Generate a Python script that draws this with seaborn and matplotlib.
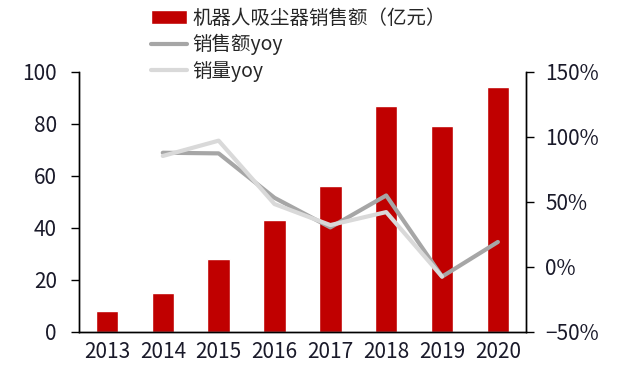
import matplotlib
matplotlib.use('Agg')
import matplotlib.pyplot as plt
from matplotlib.ticker import FuncFormatter, FixedLocator
import seaborn as sns
import pandas as pd
import numpy as np

# data
years = ['2013', '2014', '2015', '2016', '2017', '2018', '2019', '2020']
sales = [8, 15, 28, 43, 56, 87, 79, 94]          # 亿元
sales_yoy = [None, 87.7, 87.2, 53, 30.2, 54.8, -7.7, 19]   # %
volume_yoy = [None, 85.2, 97, 48.2, 32, 42, -7.7, None]    # %

sns.set_style('white')
plt.rcParams['font.family'] = ['Noto Sans CJK SC', 'DejaVu Sans']
plt.rcParams['axes.unicode_minus'] = False

df = pd.DataFrame({'year': years, 'sales': sales,
                   'sales_yoy': sales_yoy, 'volume_yoy': volume_yoy})
df['pos'] = np.arange(len(years))

fig = plt.figure(figsize=(6.32, 3.82), dpi=100)
ax = fig.add_axes([0.125, 0.132, 0.707, 0.68])

sns.barplot(data=df, x='year', y='sales', color='#C00000', saturation=1,
            width=0.4, ax=ax)
ax.set_xlim(-0.5, 7.5)
ax.set_ylim(0, 100)
ax.set_yticks([0, 20, 40, 60, 80, 100])
ax.set_xlabel('')
ax.set_ylabel('')

ax2 = ax.twinx()
sns.lineplot(x=df['pos'], y=df['sales_yoy'], color='#A6A6A6', linewidth=3,
             ax=ax2)
sns.lineplot(x=df['pos'], y=df['volume_yoy'], color='#D9D9D9', linewidth=3,
             ax=ax2)
ax2.set_ylim(-50, 150)
ax2.set_yticks([-50, 0, 50, 100, 150])
ax2.yaxis.set_major_formatter(FuncFormatter(lambda v, p: '\u2212%d%%' % -v if v < 0 else '%d%%' % v))
ax2.set_xlim(-0.5, 7.5)
ax2.set_xlabel('')
ax2.set_ylabel('')

# x ticks at category boundaries, labels centred
ax.tick_params(axis='x', which='major', length=0, pad=7)
ax.xaxis.set_minor_locator(FixedLocator(np.arange(-0.5, 8, 1)))
ax.tick_params(axis='x', which='minor', length=5, width=1, color='black', direction='out')

tc = '#1a1a2a'
ax.tick_params(axis='y', length=6, width=1, color='black', direction='out',
               labelsize=15, labelcolor=tc, pad=10)
ax.tick_params(axis='x', labelsize=15, labelcolor=tc)
ax2.tick_params(axis='y', length=6, width=1, color='black', direction='out',
                labelsize=15, labelcolor=tc, pad=8)

for a in (ax, ax2):
    a.spines['top'].set_visible(False)
    for s in ('left', 'right', 'bottom'):
        a.spines[s].set_color('black')
        a.spines[s].set_linewidth(1)
    a.grid(False)

bar_handle = ax.containers[0].patches[0]
handles = [bar_handle, ax2.lines[0], ax2.lines[1]]
labels = ['机器人吸尘器销售额（亿元）', '销售额yoy', '销量yoy']
fig.legend(handles, labels, loc='upper left', bbox_to_anchor=(0.232, 0.99),
           frameon=False, fontsize=14, handlelength=1.9, handletextpad=0.25,
           labelspacing=0.28, borderaxespad=0, borderpad=0.2)

fig.savefig('out.png', dpi=100)
